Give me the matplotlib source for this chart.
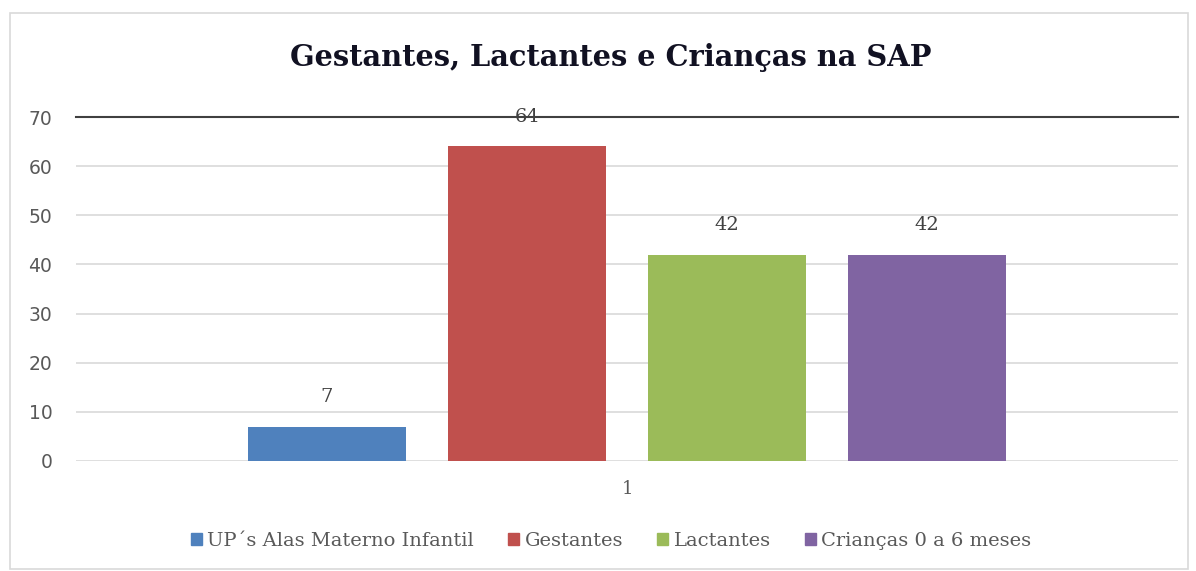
import matplotlib.pyplot as plt
import matplotlib.patches as mpatches
import numpy as np

# data
series = ['UP´s Alas Materno Infantil', 'Gestantes', 'Lactantes', 'Crianças 0 a 6 meses']
values = [7, 64, 42, 42]
colors = ['#4f81bd', '#c0504d', '#9bbb59', '#8064a2']
category = [1]
title = 'Gestantes, Lactantes e Crianças na SAP'

W, H = 1196, 571
fig = plt.figure(figsize=(W / 100, H / 100), dpi=100, facecolor='white')

# outer chart border
fig.add_artist(mpatches.Rectangle((10 / W, 1 - 569 / H), 1178 / W, 556 / H,
                                  transform=fig.transFigure, fill=False,
                                  edgecolor='#d9d9d9', linewidth=1.2))

ax = fig.add_axes([76 / W, 110 / H, 1102 / W, 344 / H])

step = 0.1815
width = 0.1434
offsets = (np.arange(len(series)) - (len(series) - 1) / 2) * step
for i in range(len(series)):
    ax.bar(category[0] + offsets[i], values[i], width=width,
           color=colors[i], label=series[i], zorder=3)
    ax.annotate(str(values[i]), (category[0] + offsets[i], values[i]),
                xytext=(0, 21), textcoords='offset points', ha='center',
                va='center', fontsize=14, family='DejaVu Serif',
                color='#404040', zorder=4)

ax.set_xlim(0.5, 1.5)
ax.set_ylim(0, 70)
ax.set_yticks(np.arange(0, 71, 10))
ax.set_xticks(category)
ax.set_xticklabels([str(c) for c in category], family='DejaVu Serif',
                   fontsize=13, color='#595959')
ax.tick_params(axis='y', length=0, pad=17, labelsize=13.5, labelcolor='#595959')
ax.tick_params(axis='x', length=0, pad=14)
ax.yaxis.grid(True, color='#d9d9d9', linewidth=1.2, zorder=0)
ax.set_axisbelow(True)
for s in ['left', 'right', 'bottom']:
    ax.spines[s].set_visible(False)
ax.spines['top'].set_color('#404040')
ax.spines['top'].set_linewidth(1.5)
ax.spines['top'].set_zorder(2)

fig.text(611 / W, 1 - 57 / H, title, ha='center', va='center', fontsize=20.8,
         fontweight='bold', family='DejaVu Serif', color='#111122')

handles = [mpatches.Patch(color=c) for c in colors]
fig.legend(handles, series, loc='center', bbox_to_anchor=(0.511, 1 - 541 / H),
           ncol=4, frameon=False, handlelength=0.55, handleheight=0.55,
           handletextpad=0.3, columnspacing=1.75,
           prop={'family': 'DejaVu Serif', 'size': 14},
           labelcolor='#595959')

fig.savefig('out.png', dpi=100)
